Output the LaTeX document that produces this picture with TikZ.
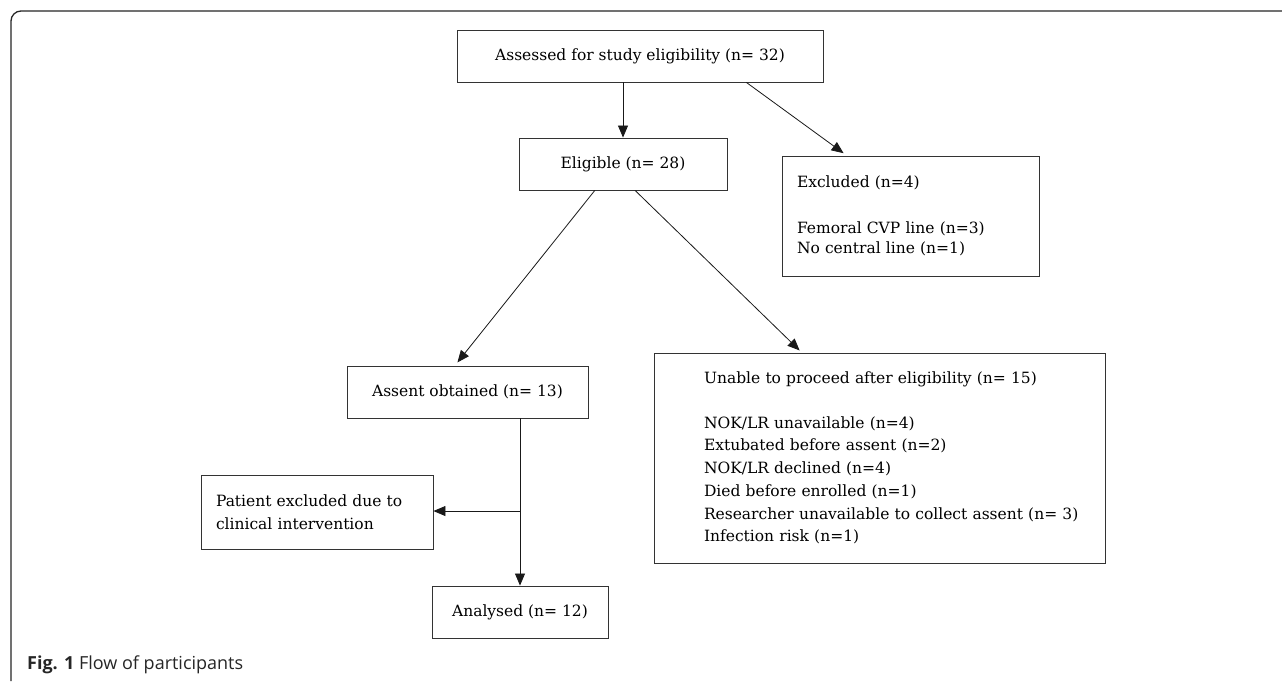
\documentclass[tikz,border=0pt]{standalone}
\usepackage{fontspec}
\setmainfont{DejaVu Serif}
\newfontfamily\capfont{Open Sans}
\usetikzlibrary{arrows.meta,calc}
\begin{document}
\begin{tikzpicture}[x=1pt,y=-1pt,
  box/.style={draw=black!80, line width=0.9pt, inner sep=0pt, font=\fontsize{15.5}{22.7}\selectfont},
  arr/.style={draw=black!90, line width=0.8pt, -{Triangle[length=12pt,width=10pt]}},
  ln/.style={draw=black!90, line width=0.8pt}]
\useasboundingbox (0,0) rectangle (1282,681);
\fill[white] (0,0) rectangle (1282,681);
\draw[line width=1.3pt, black!85, rounded corners=10pt] (11,681) -- (11,11) -- (1282,11);

\node[box, minimum width=366pt, minimum height=52pt] (assess) at (640,56) {Assessed for study eligibility (n= 32)};
\node[box, minimum width=208pt, minimum height=52pt] (elig) at (623,164) {Eligible (n= 28)};
\node[box, minimum width=257pt, minimum height=120pt, align=left, text width=227pt, inner xsep=15pt] (excl) at (910.5,216)
  {Excluded (n=4)\\[22.7pt]Femoral CVP line (n=3)\\[-2pt]No central line (n=1)};
\node[box, minimum width=241pt, minimum height=52pt] (assent) at (467.5,392) {Assent obtained (n= 13)};
\node[box, minimum width=451pt, minimum height=210pt, align=left, text width=411pt, inner xsep=20pt] (unable) at (879.5,458)
  {\leftskip=30pt Unable to proceed after eligibility (n= 15)\\[22pt]NOK/LR unavailable (n=4)\\Extubated before assent (n=2)\\NOK/LR declined (n=4)\\Died before enrolled (n=1)\\Researcher unavailable to collect assent (n= 3)\\Infection risk (n=1)\par};
\node[box, minimum width=232pt, minimum height=74pt, align=left, text width=202pt, inner xsep=15pt] (patient) at (317,512)
  {Patient excluded due to\\clinical intervention};
\node[box, minimum width=176pt, minimum height=52pt] (analysed) at (520,612) {Analysed (n= 12)};

\node[anchor=base west, inner sep=0pt, font=\capfont\fontsize{18}{20}\selectfont, text=black!85] (cap) at (27,669)
  {\textbf{Fig. 1} Flow of participants};

\draw[arr] (elig.north |- assess.south) -- (elig.north);
\draw[arr, shorten >=4pt] ($(assess.south west)!0.79!(assess.south east)$) -- ($(excl.north west)!0.253!(excl.north east)$);
\draw[arr, shorten >=4pt] ($(elig.south west)!0.365!(elig.south east)$) -- ($(assent.north west)!0.448!(assent.north east)$);
\draw[arr, shorten >=3pt] ($(elig.south west)!0.558!(elig.south east)$) -- ($(unable.north west)!0.328!(unable.north east)$);
\draw[arr] (analysed.north |- assent.south) -- (analysed.north);
\coordinate (br) at ($(analysed.north |- assent.south)!0.554!(analysed.north)$);
\draw[arr] (br) -- (br -| patient.east);
\end{tikzpicture}
\end{document}
